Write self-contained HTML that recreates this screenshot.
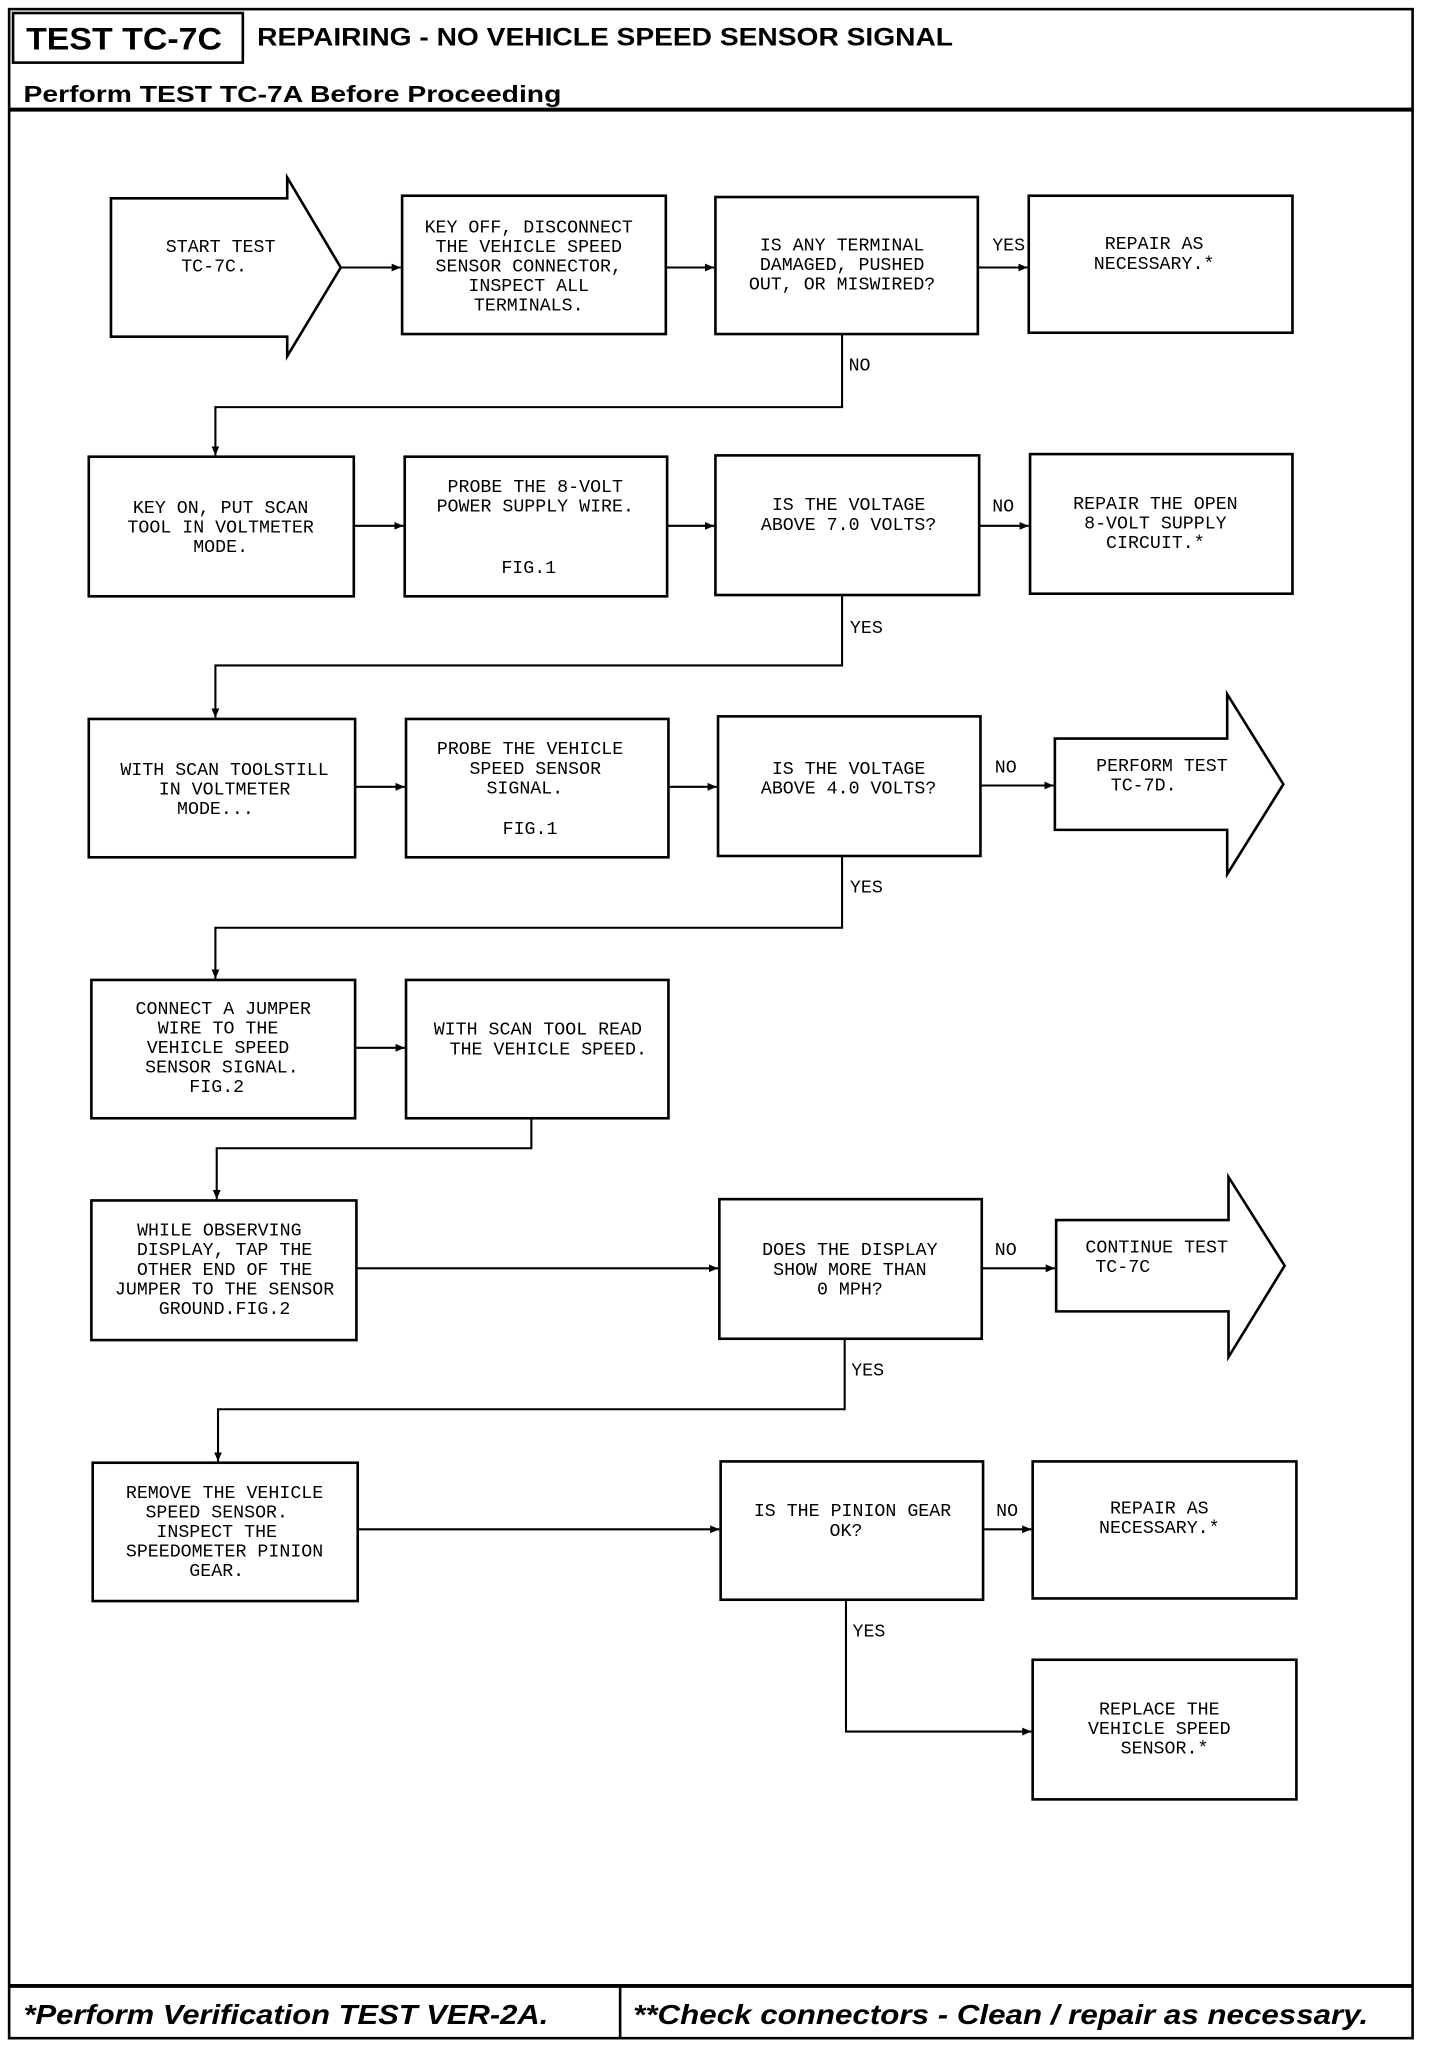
<!DOCTYPE html>
<html><head><meta charset="utf-8"><style>
html,body{margin:0;padding:0;background:#fff;}
svg{display:block;}
.m{font-family:"Liberation Mono",monospace;font-size:14px;text-anchor:middle;}
.l{font-family:"Liberation Mono",monospace;font-size:14px;}
.h{font-family:"Liberation Sans",sans-serif;font-weight:bold;}
</style></head><body>
<svg width="1440" height="2046" viewBox="0 0 1103 1568" preserveAspectRatio="none" xmlns="http://www.w3.org/2000/svg">
<defs><marker id="a" markerWidth="8" markerHeight="8" refX="7" refY="4" orient="auto" markerUnits="userSpaceOnUse"><path d="M0,1 L7,4 L0,7 z" fill="#000"/></marker></defs>
<g fill="none" stroke="#000" stroke-width="2">
<rect x="7" y="7" width="1075" height="1555"/>
<rect x="10" y="10" width="176" height="38"/>
<line x1="7" y1="84" x2="1082" y2="84" stroke-width="3"/>
<line x1="7" y1="1522" x2="1082" y2="1522" stroke-width="3"/>
<line x1="475" y1="1522" x2="475" y2="1562"/>
<path d="M85,152 H220 V136 L261,205 L220,273 V258 H85 Z"/>
<rect x="308" y="150" width="202" height="106"/>
<rect x="548" y="151" width="201" height="105"/>
<rect x="788" y="150" width="202" height="105"/>
<rect x="68" y="350" width="203" height="107"/>
<rect x="310" y="350" width="201" height="107"/>
<rect x="548" y="349" width="202" height="107"/>
<rect x="789" y="348" width="201" height="107"/>
<rect x="68" y="551" width="204" height="106"/>
<rect x="311" y="551" width="201" height="106"/>
<rect x="550" y="549" width="201" height="107"/>
<path d="M808,566 H940 V532 L983,601 L940,670 V636 H808 Z"/>
<rect x="70" y="751" width="202" height="106"/>
<rect x="311" y="751" width="201" height="106"/>
<rect x="70" y="920" width="203" height="107"/>
<rect x="551" y="919" width="201" height="107"/>
<path d="M809,935 H941 V902 L984,970 L941,1040 V1005 H809 Z"/>
<rect x="71" y="1121" width="203" height="106"/>
<rect x="552" y="1120" width="201" height="106"/>
<rect x="791" y="1120" width="202" height="105"/>
<rect x="791" y="1272" width="202" height="107"/>
</g>
<g fill="none" stroke="#000" stroke-width="1.6" marker-end="url(#a)">
<line x1="261" y1="205" x2="307" y2="205"/>
<line x1="510" y1="205" x2="547" y2="205"/>
<line x1="749" y1="205" x2="787" y2="205"/>
<path d="M645,256 V312 H165 V349"/>
<line x1="271" y1="403" x2="309" y2="403"/>
<line x1="511" y1="403" x2="547" y2="403"/>
<line x1="750" y1="403" x2="788" y2="403"/>
<path d="M645,456 V510 H165 V550"/>
<line x1="272" y1="603" x2="310" y2="603"/>
<line x1="512" y1="603" x2="549" y2="603"/>
<line x1="751" y1="602" x2="807" y2="602"/>
<path d="M645,656 V711 H165 V750"/>
<line x1="272" y1="803" x2="310" y2="803"/>
<path d="M407,857 V880 H166 V919"/>
<line x1="273" y1="972" x2="550" y2="972"/>
<line x1="752" y1="972" x2="808" y2="972"/>
<path d="M647,1026 V1080 H167 V1120"/>
<line x1="274" y1="1172" x2="551" y2="1172"/>
<line x1="753" y1="1172" x2="790" y2="1172"/>
<path d="M648,1226 V1327 H790"/>
</g>
<g fill="#000">
<text class="h" x="20" y="38" font-size="24" textLength="150" lengthAdjust="spacingAndGlyphs">TEST TC-7C</text>
<text class="h" x="197" y="35" font-size="19" textLength="533" lengthAdjust="spacingAndGlyphs">REPAIRING - NO VEHICLE SPEED SENSOR SIGNAL</text>
<text class="h" x="18" y="78" font-size="18" textLength="412" lengthAdjust="spacingAndGlyphs">Perform TEST TC-7A Before Proceeding</text>
<text class="h" x="18" y="1551" font-size="21" font-style="italic" textLength="402" lengthAdjust="spacingAndGlyphs">*Perform Verification TEST VER-2A.</text>
<text class="h" x="485" y="1551" font-size="21" font-style="italic" textLength="563" lengthAdjust="spacingAndGlyphs">**Check connectors - Clean / repair as necessary.</text>

<text class="m" x="169" y="193">START TEST</text><text class="m" x="164" y="208">TC-7C.</text>
<text class="m" x="405" y="178">KEY OFF, DISCONNECT</text><text class="m" x="405" y="193">THE VEHICLE SPEED</text><text class="m" x="405" y="208">SENSOR CONNECTOR,</text><text class="m" x="405" y="223">INSPECT ALL</text><text class="m" x="405" y="238">TERMINALS.</text>
<text class="m" x="645" y="192">IS ANY TERMINAL</text><text class="m" x="645" y="207">DAMAGED, PUSHED</text><text class="m" x="645" y="222">OUT, OR MISWIRED?</text>
<text class="m" x="884" y="191">REPAIR AS</text><text class="m" x="884" y="206">NECESSARY.*</text>
<text class="l" x="760" y="192">YES</text><text class="l" x="650" y="284">NO</text>

<text class="m" x="169" y="393">KEY ON, PUT SCAN</text><text class="m" x="169" y="408">TOOL IN VOLTMETER</text><text class="m" x="169" y="423">MODE.</text>
<text class="m" x="410" y="377">PROBE THE 8-VOLT</text><text class="m" x="410" y="392">POWER SUPPLY WIRE.</text><text class="m" x="405" y="439">FIG.1</text>
<text class="m" x="650" y="391">IS THE VOLTAGE</text><text class="m" x="650" y="406">ABOVE 7.0 VOLTS?</text>
<text class="m" x="885" y="390">REPAIR THE OPEN</text><text class="m" x="885" y="405">8-VOLT SUPPLY</text><text class="m" x="885" y="420">CIRCUIT.*</text>
<text class="l" x="760" y="392">NO</text><text class="l" x="651" y="485">YES</text>

<text class="m" x="172" y="594">WITH SCAN TOOLSTILL</text><text class="m" x="172" y="609">IN VOLTMETER</text><text class="m" x="165" y="624">MODE...</text>
<text class="m" x="406" y="578">PROBE THE VEHICLE</text><text class="m" x="410" y="593">SPEED SENSOR</text><text class="m" x="402" y="608">SIGNAL.</text><text class="m" x="406" y="639">FIG.1</text>
<text class="m" x="650" y="593">IS THE VOLTAGE</text><text class="m" x="650" y="608">ABOVE 4.0 VOLTS?</text>
<text class="m" x="890" y="591">PERFORM TEST</text><text class="m" x="876" y="606">TC-7D.</text>
<text class="l" x="762" y="592">NO</text><text class="l" x="651" y="684">YES</text>

<text class="m" x="171" y="777">CONNECT A JUMPER</text><text class="m" x="167" y="792">WIRE TO THE</text><text class="m" x="167" y="807">VEHICLE SPEED</text><text class="m" x="170" y="822">SENSOR SIGNAL.</text><text class="m" x="166" y="837">FIG.2</text>
<text class="m" x="412" y="793">WITH SCAN TOOL READ</text><text class="m" x="420" y="808">THE VEHICLE SPEED.</text>

<text class="m" x="168" y="947">WHILE OBSERVING</text><text class="m" x="172" y="962">DISPLAY, TAP THE</text><text class="m" x="172" y="977">OTHER END OF THE</text><text class="m" x="172" y="992">JUMPER TO THE SENSOR</text><text class="m" x="172" y="1007">GROUND.FIG.2</text>
<text class="m" x="651" y="962">DOES THE DISPLAY</text><text class="m" x="651" y="977">SHOW MORE THAN</text><text class="m" x="651" y="992">0 MPH?</text>
<text class="m" x="886" y="960">CONTINUE TEST</text><text class="m" x="860" y="975">TC-7C</text>
<text class="l" x="762" y="962">NO</text><text class="l" x="652" y="1054">YES</text>

<text class="m" x="172" y="1148">REMOVE THE VEHICLE</text><text class="m" x="166" y="1163">SPEED SENSOR.</text><text class="m" x="166" y="1178">INSPECT THE</text><text class="m" x="172" y="1193">SPEEDOMETER PINION</text><text class="m" x="166" y="1208">GEAR.</text>
<text class="m" x="653" y="1162">IS THE PINION GEAR</text><text class="m" x="648" y="1177">OK?</text>
<text class="m" x="888" y="1160">REPAIR AS</text><text class="m" x="888" y="1175">NECESSARY.*</text>
<text class="l" x="763" y="1162">NO</text><text class="l" x="653" y="1254">YES</text>
<text class="m" x="888" y="1314">REPLACE THE</text><text class="m" x="888" y="1329">VEHICLE SPEED</text><text class="m" x="892" y="1344">SENSOR.*</text>
</g>
</svg>
</body></html>
